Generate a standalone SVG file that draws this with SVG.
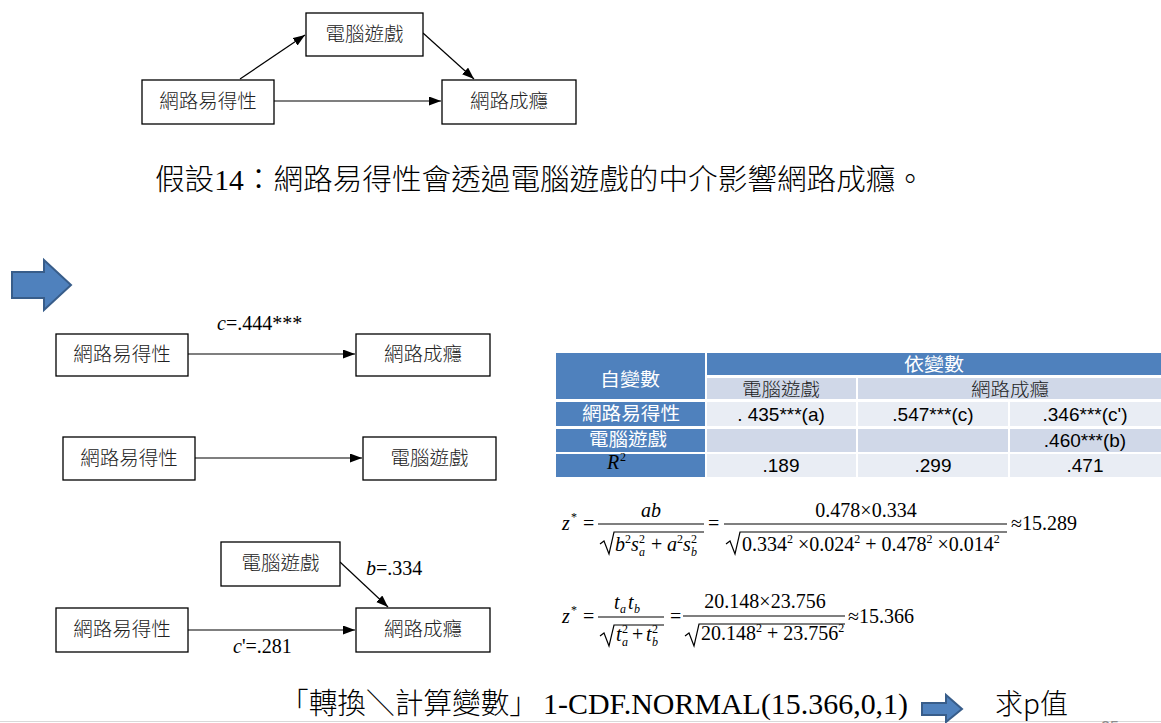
<svg xmlns="http://www.w3.org/2000/svg" width="1161" height="723" viewBox="0 0 1161 723">
<style>
.box{fill:#fff;stroke:#000;stroke-width:1.3}
.nt{font-family:"Noto Sans CJK TC","Noto Sans CJK SC",sans-serif;font-weight:300;font-size:19.5px;fill:#222;text-anchor:middle}
.conn{stroke:#000;stroke-width:1.2;fill:none}
.lbl{font-family:"Liberation Serif",serif;font-size:20px;fill:#000}
.it{font-style:italic}
.m{font-family:"Liberation Serif",serif;font-size:20px;fill:#000}
.s{font-family:"Liberation Serif",serif;font-size:12px;fill:#000}
.rad{stroke:#000;stroke-width:1.2;fill:none}
.frac{stroke:#000;stroke-width:1.2}
.big{font-family:"Liberation Serif","Noto Sans CJK TC",serif;font-weight:300;font-size:29px;fill:#000}
.blue{fill:#4F81BD}
.c1{fill:#E9EDF4}
.c2{fill:#D0D8E8}
.tw{font-family:"Noto Sans CJK TC","Noto Sans CJK SC",sans-serif;font-size:18px;fill:#fff;text-anchor:middle}
.td{font-family:"Noto Sans CJK TC","Noto Sans CJK SC",sans-serif;font-weight:300;font-size:18px;fill:#222;text-anchor:middle}
.tn{font-family:"Liberation Sans",Arial,sans-serif;font-size:19px;fill:#000;text-anchor:middle}
.barrow{fill:#4F81BD;stroke:#385D8A;stroke-width:2}
</style>
<defs>
<marker id="ah" markerUnits="userSpaceOnUse" markerWidth="13" markerHeight="10" refX="12" refY="4.5" orient="auto">
<path d="M0,0 L12,4.5 L0,9 z" fill="#000"/>
</marker>
</defs>
<rect width="1161" height="723" fill="#fff"/>

<g id="connectors">
<line class="conn" x1="240" y1="79" x2="305" y2="35" marker-end="url(#ah)"/>
<line class="conn" x1="423" y1="33" x2="474" y2="79" marker-end="url(#ah)"/>
<line class="conn" x1="274" y1="101" x2="441" y2="101" marker-end="url(#ah)"/>
<line class="conn" x1="188" y1="354" x2="355" y2="354" marker-end="url(#ah)"/>
<line class="conn" x1="195" y1="458" x2="362" y2="458" marker-end="url(#ah)"/>
<line class="conn" x1="188" y1="630" x2="355" y2="630" marker-end="url(#ah)"/>
<line class="conn" x1="340" y1="562" x2="388" y2="607" marker-end="url(#ah)"/>
</g>

<g id="n_top_game"><rect class="box" x="306" y="13" width="117" height="43"/><text class="nt" x="364.5" y="41">電腦遊戲</text></g>
<g id="n_top_access"><rect class="box" x="142" y="80" width="132" height="44"/><text class="nt" x="208" y="108">網路易得性</text></g>
<g id="n_top_addict"><rect class="box" x="442" y="80" width="134" height="44"/><text class="nt" x="509" y="108">網路成癮</text></g>

<text x="155" y="190" class="big" textLength="770" lengthAdjust="spacingAndGlyphs">假設14：網路易得性會透過電腦遊戲的中介影響網路成癮。</text>

<polygon class="barrow" points="12,272 44,272 44,260 71,285 44,310 44,298 12,298"/>

<g id="n1_access"><rect class="box" x="56" y="334" width="132" height="42"/><text class="nt" x="122" y="361">網路易得性</text></g>
<g id="n1_addict"><rect class="box" x="356" y="334" width="134" height="42"/><text class="nt" x="423" y="361">網路成癮</text></g>
<text class="lbl" x="217" y="330"><tspan class="it">c</tspan>=.444***</text>

<g id="n2_access"><rect class="box" x="63" y="437" width="132" height="43"/><text class="nt" x="129" y="465">網路易得性</text></g>
<g id="n2_game"><rect class="box" x="363" y="437" width="133" height="43"/><text class="nt" x="429.5" y="465">電腦遊戲</text></g>

<g id="n3_game"><rect class="box" x="221" y="542" width="119" height="44"/><text class="nt" x="280.5" y="570">電腦遊戲</text></g>
<g id="n3_access"><rect class="box" x="56" y="608" width="132" height="44"/><text class="nt" x="122" y="636">網路易得性</text></g>
<g id="n3_addict"><rect class="box" x="356" y="608" width="134" height="44"/><text class="nt" x="423" y="636">網路成癮</text></g>
<text class="lbl" x="366" y="575"><tspan class="it">b</tspan>=.334</text>
<text class="lbl" x="233" y="653"><tspan class="it">c</tspan>'=.281</text>

<g id="table">
<rect class="blue" x="556" y="353" width="149" height="46"/>
<rect class="blue" x="707" y="353" width="454" height="22"/>
<rect class="c2" x="707" y="378" width="149" height="21"/>
<rect class="c2" x="858" y="378" width="303" height="21"/>
<rect class="blue" x="556" y="402" width="149" height="24"/>
<rect class="c1" x="707" y="402" width="149" height="24"/>
<rect class="c1" x="858" y="402" width="150" height="24"/>
<rect class="c1" x="1010" y="402" width="151" height="24"/>
<rect class="blue" x="556" y="429" width="149" height="23"/>
<rect class="c2" x="707" y="429" width="149" height="23"/>
<rect class="c2" x="858" y="429" width="150" height="23"/>
<rect class="c2" x="1010" y="429" width="151" height="23"/>
<rect class="blue" x="556" y="454" width="149" height="23"/>
<rect class="c1" x="707" y="454" width="149" height="23"/>
<rect class="c1" x="858" y="454" width="150" height="23"/>
<rect class="c1" x="1010" y="454" width="151" height="23"/>
<text class="tw" x="934" y="371" textLength="60" lengthAdjust="spacingAndGlyphs">依變數</text>
<text class="tw" x="630" y="386" textLength="60" lengthAdjust="spacingAndGlyphs">自變數</text>
<text class="td" x="781" y="396" textLength="78" lengthAdjust="spacingAndGlyphs">電腦遊戲</text>
<text class="td" x="1010" y="396" textLength="78" lengthAdjust="spacingAndGlyphs">網路成癮</text>
<text class="tw" x="631" y="420" textLength="98" lengthAdjust="spacingAndGlyphs">網路易得性</text>
<text class="tn" x="781" y="421">. 435***(a)</text>
<text class="tn" x="933" y="421">.547***(c)</text>
<text class="tn" x="1085" y="421">.346***(c')</text>
<text class="tw" x="628" y="446" textLength="78" lengthAdjust="spacingAndGlyphs">電腦遊戲</text>
<text class="tn" x="1085" y="447">.460***(b)</text>
<text class="m it" x="607" y="469">R</text><text class="s" x="620" y="461">2</text>
<text class="tn" x="781" y="472">.189</text>
<text class="tn" x="933" y="472">.299</text>
<text class="tn" x="1085" y="472">.471</text>
</g>

<g id="formula1">
<text class="m it" x="562" y="530">z</text><text class="s" x="571" y="521">*</text>
<text class="m" x="583" y="530">=</text>
<text class="m it" x="651" y="517" text-anchor="middle">ab</text>
<line class="frac" x1="598" y1="524" x2="704" y2="524"/>
<path class="rad" d="M600,544 L604,541 L609,554 L614,532 L704,532"/>
<text class="m it" x="615" y="551">b</text><text class="s" x="625" y="543">2</text>
<text class="m it" x="631" y="551">s</text><text class="s" x="639" y="543">2</text><text class="s it" x="639" y="556">a</text>
<text class="m" x="651" y="551">+</text>
<text class="m it" x="667" y="551">a</text><text class="s" x="677" y="543">2</text>
<text class="m it" x="683" y="551">s</text><text class="s" x="691" y="543">2</text><text class="s it" x="691" y="556">b</text>
<text class="m" x="708" y="530">=</text>
<text class="m" x="866" y="517" text-anchor="middle">0.478×0.334</text>
<line class="frac" x1="724" y1="524" x2="1007" y2="524"/>
<path class="rad" d="M726,544 L730,541 L735,554 L740,532 L1007,532"/>
<text class="m" x="742" y="551">0.334<tspan style="font-size:12px" dy="-8">2</tspan><tspan dy="8"> ×0.024</tspan><tspan style="font-size:12px" dy="-8">2</tspan><tspan dy="8"> + 0.478</tspan><tspan style="font-size:12px" dy="-8">2</tspan><tspan dy="8"> ×0.014</tspan><tspan style="font-size:12px" dy="-8">2</tspan></text>
<text class="m" x="1011" y="530">≈15.289</text>
</g>

<g id="formula2">
<text class="m it" x="562" y="623">z</text><text class="s" x="571" y="614">*</text>
<text class="m" x="583" y="623">=</text>
<text class="m it" x="614" y="609">t</text><text class="s it" x="620" y="613">a</text>
<text class="m it" x="628" y="609">t</text><text class="s it" x="634" y="613">b</text>
<line class="frac" x1="598" y1="617" x2="664" y2="617"/>
<path class="rad" d="M600,636 L604,633 L609,646 L614,625 L664,625"/>
<text class="m it" x="616" y="641">t</text><text class="s" x="622" y="633">2</text><text class="s it" x="622" y="646">a</text>
<text class="m" x="632" y="641">+</text>
<text class="m it" x="646" y="641">t</text><text class="s" x="652" y="633">2</text><text class="s it" x="652" y="646">b</text>
<text class="m" x="670" y="623">=</text>
<text class="m" x="765" y="608" text-anchor="middle">20.148×23.756</text>
<line class="frac" x1="683" y1="616" x2="845" y2="616"/>
<path class="rad" d="M685,636 L689,633 L694,646 L699,624 L845,624"/>
<text class="m" x="701" y="640">20.148<tspan style="font-size:12px" dy="-8">2</tspan><tspan dy="8"> + 23.756</tspan><tspan style="font-size:12px" dy="-8">2</tspan></text>
<text class="m" x="848" y="623">≈15.366</text>
</g>

<line x1="0" y1="721.5" x2="1161" y2="721.5" stroke="#d9d9d9" stroke-width="1"/>
<text class="big" x="280" y="714" textLength="258" lengthAdjust="spacingAndGlyphs">「轉換＼計算變數」</text>
<text class="big" x="543" y="714" style="font-size:30px" textLength="365" lengthAdjust="spacingAndGlyphs">1-CDF.NORMAL(15.366,0,1)</text>
<polygon class="barrow" points="922,703 946,703 946,695 962,709 946,722 946,715 922,715"/>
<text x="995" y="714" style="font-family:'Noto Sans CJK TC','Noto Sans CJK SC',sans-serif;font-weight:300;font-size:28px;fill:#000">求p值</text>
<text x="1101" y="733" style="font-family:'Liberation Sans',Arial,sans-serif;font-size:16px;fill:#8c8c8c">25</text>
</svg>
